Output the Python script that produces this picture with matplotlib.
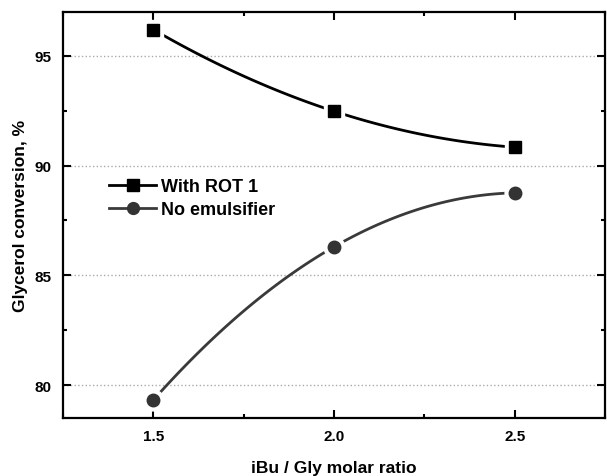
import numpy as np
import matplotlib.pyplot as plt
from matplotlib.ticker import MultipleLocator

plt.rcParams['font.family'] = ['Liberation Sans', 'DejaVu Sans']
plt.rcParams['font.weight'] = 'bold'

ratio = [1.5, 2.0, 2.5]
with_rot1 = [96.2, 92.48, 90.84]
no_emulsifier = [79.32, 86.3, 88.76]


def smooth(x, y):
    # quadratic through the three measured points
    c = np.polyfit(x, y, 2)
    xs = np.linspace(x[0], x[-1], 100)
    return xs, np.polyval(c, xs)


fig = plt.figure(figsize=(6.07, 4.77), dpi=100)
ax = fig.add_axes([0.1038, 0.1216, 0.8929, 0.8511])

series = [
    (with_rot1, 's', '#000000', '#000000', 'With ROT 1'),
    (no_emulsifier, 'o', '#333333', '#3a3a3a', 'No emulsifier'),
]
for y, mk, mcol, lcol, lab in series:
    xs, ys = smooth(ratio, y)
    ax.plot(xs, ys, color=lcol, lw=2, zorder=3)
    # white halo keeps the line clear of the markers
    ax.plot(ratio, y, ls='none', marker=mk, ms=15, mfc='white', mec='white', zorder=4)
    ax.plot(ratio, y, ls='none', marker=mk, ms=9, mfc=mcol, mec=mcol, zorder=5)
    ax.plot([], [], color=lcol, lw=2, marker=mk, ms=8.5, mfc=mcol, mec=mcol, label=lab)

ax.set_xlim(1.25, 2.75)
ax.set_ylim(78.5, 97.0)
ax.xaxis.set_major_locator(MultipleLocator(0.5))
ax.xaxis.set_minor_locator(MultipleLocator(0.25))
ax.yaxis.set_major_locator(MultipleLocator(5))
ax.yaxis.set_minor_locator(MultipleLocator(2.5))
ax.tick_params(which='both', direction='in', top=True, right=True, width=1.5,
               labelsize=11, pad=8)
ax.tick_params(which='major', length=6)
ax.tick_params(which='minor', length=3)
ax.grid(axis='y', which='major', ls=':', color='#aaaaaa', lw=1)
for s in ax.spines.values():
    s.set_linewidth(1.6)

ax.set_xlabel('iBu / Gly molar ratio', fontsize=12.5, fontweight='bold', labelpad=12)
ax.set_ylabel('Glycerol conversion, %', fontsize=12.5, fontweight='bold', labelpad=5)

ax.legend(loc='upper left', bbox_to_anchor=(0.055, 0.63), frameon=False,
          fontsize=13, handlelength=2.6, handletextpad=0.25, labelspacing=0.3)

fig.savefig('out.png', dpi=100)
